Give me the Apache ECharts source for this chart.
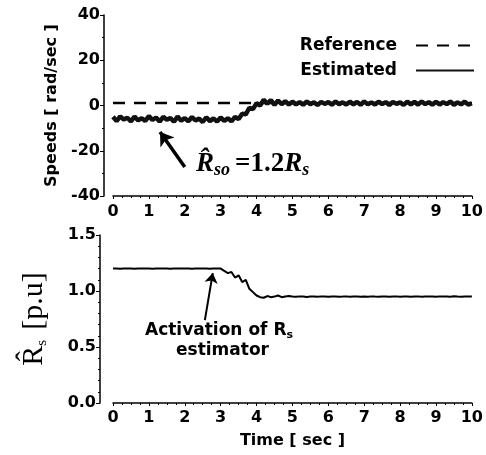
<!DOCTYPE html>
<html><head><meta charset="utf-8">
<script src="https://cdn.jsdelivr.net/npm/echarts@6/dist/echarts.min.js"></script>
<style>html,body{margin:0;padding:0;background:#fff}#c{width:486px;height:455px}</style>
</head><body><div id="c"></div>
<script>
// time samples (s)
const time = [0.0,0.1,0.2,0.3,0.4,0.5,0.6,0.7,0.8,0.9,
1.0,1.1,1.2,1.3,1.4,1.5,1.6,1.7,1.8,1.9,
2.0,2.1,2.2,2.3,2.4,2.5,2.6,2.7,2.8,2.9,
3.0,3.1,3.2,3.3,3.4,3.5,3.6,3.7,3.8,3.9,
4.0,4.1,4.2,4.3,4.4,4.5,4.6,4.7,4.8,4.9,
5.0,5.1,5.2,5.3,5.4,5.5,5.6,5.7,5.8,5.9,
6.0,6.1,6.2,6.3,6.4,6.5,6.6,6.7,6.8,6.9,
7.0,7.1,7.2,7.3,7.4,7.5,7.6,7.7,7.8,7.9,
8.0,8.1,8.2,8.3,8.4,8.5,8.6,8.7,8.8,8.9,
9.0,9.1,9.2,9.3,9.4,9.5,9.6,9.7,9.8,9.9,10.0];
// estimated speed (rad/sec)
const speedEstimated = [-5.0,-6.9,-4.8,-6.2,-5.4,-7.0,-4.9,-6.6,-5.6,-6.8,
-4.7,-6.4,-5.3,-7.1,-5.0,-6.3,-5.5,-7.2,-4.9,-6.7,
-5.6,-7.0,-5.1,-6.6,-5.8,-7.3,-5.2,-6.9,-5.7,-7.1,
-5.3,-6.8,-5.6,-7.0,-5.1,-6.0,-3.6,-3.9,-1.0,-1.6,
1.0,0.0,2.6,0.8,2.4,0.3,2.2,0.6,1.9,0.4,
1.7,0.5,1.5,0.3,1.8,0.6,1.4,0.2,1.6,0.7,
1.5,0.3,1.8,0.6,1.4,0.4,1.7,0.5,1.6,0.3,
1.8,0.5,1.4,0.4,1.7,0.6,1.5,0.2,1.6,0.7,
1.4,0.3,1.7,0.5,1.6,0.4,1.8,0.6,1.5,0.3,
1.7,0.4,1.5,0.6,1.8,0.3,1.4,0.5,1.7,0.4,1.0];
// reference speed (rad/sec)
const refTime = [0, 10];
const speedReference = [1.1, 1.1];
// estimated stator resistance (p.u)
const rsEstimated = [1.2,1.2,1.198,1.2,1.201,1.2,1.199,1.2,1.2,1.201,
1.2,1.199,1.2,1.2,1.201,1.2,1.198,1.2,1.2,1.201,
1.2,1.2,1.199,1.2,1.201,1.2,1.2,1.199,1.2,1.2,
1.2,1.18,1.16,1.17,1.12,1.14,1.08,1.10,1.02,0.99,
0.96,0.945,0.94,0.955,0.945,0.95,0.96,0.945,0.95,0.955,
0.95,0.948,0.952,0.95,0.947,0.951,0.95,0.949,0.952,0.95,
0.948,0.95,0.951,0.949,0.95,0.952,0.948,0.95,0.951,0.949,
0.95,0.948,0.952,0.95,0.949,0.951,0.95,0.948,0.95,0.952,
0.949,0.95,0.951,0.948,0.95,0.952,0.949,0.95,0.951,0.95,
0.948,0.952,0.95,0.951,0.949,0.953,0.95,0.948,0.951,0.95,0.95];
const speedTicks = [-40, -20, 0, 20, 40];
const rsTicks = [0.0, 0.5, 1.0, 1.5];

const F = 'DejaVu Sans';
const chart = echarts.init(document.getElementById('c'), null, {renderer: 'canvas'});
const lbl = {color: '#000', fontFamily: F, fontWeight: 'bold', fontSize: 16};
const axLine = {show: true, onZero: false, lineStyle: {color: '#000', width: 1.5}};
function pairs(xs, ys){ return xs.map((x,i)=>[x, ys[i]]); }

chart.setOption({
  backgroundColor: '#fff',
  animation: false,
  legend: {
    data: ['Reference', 'Estimated'],
    orient: 'vertical', right: 6, top: 32, align: 'right',
    itemWidth: 58, itemHeight: 14, itemGap: 8,
    textStyle: {color: '#000', fontFamily: F, fontWeight: 'bold', fontSize: 17, padding: [0, 14, 0, 0]},
    itemStyle: {opacity: 0},
    lineStyle: {width: 2}
  },
  grid: [
    {left: 113, right: 13, top: 15, height: 181},
    {left: 113, right: 12, top: 235, height: 168}
  ],
  xAxis: [
    {gridIndex: 0, type: 'value', min: 0, max: 10, interval: 1,
     axisLine: axLine, splitLine: {show: false},
     axisTick: {show: true, length: 3, lineStyle: {color: '#000'}},
     minorTick: {show: true, splitNumber: 4, length: 2, lineStyle: {color: '#000'}},
     axisLabel: Object.assign({margin: 8}, lbl)},
    {gridIndex: 1, type: 'value', min: 0, max: 10, interval: 1,
     axisLine: axLine, splitLine: {show: false},
     axisTick: {show: true, length: 3, lineStyle: {color: '#000'}},
     minorTick: {show: true, splitNumber: 4, length: 2, lineStyle: {color: '#000'}},
     axisLabel: Object.assign({margin: 7}, lbl),
     name: 'Time [ sec ]', nameLocation: 'middle', nameGap: 30,
     nameTextStyle: {color: '#000', fontFamily: F, fontWeight: 'bold', fontSize: 16}}
  ],
  yAxis: [
    {gridIndex: 0, type: 'value', min: speedTicks[0], max: speedTicks[speedTicks.length-1], interval: 20,
     offset: 9, axisLine: axLine, splitLine: {show: false},
     axisTick: {show: true, length: 4, lineStyle: {color: '#000'}},
     minorTick: {show: true, splitNumber: 2, length: 2, lineStyle: {color: '#000'}},
     axisLabel: Object.assign({margin: 4}, lbl),
     name: 'Speeds [ rad/sec ]', nameLocation: 'middle', nameGap: 32,
     nameTextStyle: {color: '#000', fontFamily: F, fontWeight: 'bold', fontSize: 16}},
    {gridIndex: 1, type: 'value', min: rsTicks[0], max: rsTicks[rsTicks.length-1], interval: 0.5,
     offset: 13, axisLine: axLine, splitLine: {show: false},
     axisTick: {show: true, length: 4, lineStyle: {color: '#000'}},
     minorTick: {show: true, splitNumber: 5, length: 2, lineStyle: {color: '#000'}},
     axisLabel: Object.assign({margin: 4, formatter: v => v.toFixed(1)}, lbl),
     name: '{r|R\u0302}{s|s}   {t|[p.u]}', nameLocation: 'middle', nameGap: 50,
     nameTextStyle: {color: '#000', rich: {
       r: {fontFamily: 'Liberation Serif', fontSize: 30, color: '#000', lineHeight: 32},
       s: {fontFamily: 'Liberation Serif', fontSize: 15, color: '#000', verticalAlign: 'bottom', lineHeight: 24},
       t: {fontFamily: 'Liberation Serif', fontSize: 30, color: '#000', lineHeight: 32}
     }}}
  ],
  series: [
    {name: 'Reference', type: 'line', xAxisIndex: 0, yAxisIndex: 0, data: pairs(refTime, speedReference),
     showSymbol: false, symbol: 'none', z: 3,
     lineStyle: {color: '#000', width: 2.5, type: [12, 9]}, itemStyle: {color: '#000'}},
    {name: 'Estimated', type: 'line', xAxisIndex: 0, yAxisIndex: 0, data: pairs(time, speedEstimated),
     showSymbol: false, symbol: 'none', z: 4,
     lineStyle: {color: '#111', width: 4.5}, itemStyle: {color: '#111'},
     markLine: {silent: true, symbol: ['none', 'arrow'], symbolSize: 13, label: {show: false},
       lineStyle: {color: '#000', width: 3.5, type: 'solid'},
       data: [[{coord: [2.0, -27.2]}, {coord: [1.31, -11.7]}]]}},
    {name: 'Rs', type: 'line', xAxisIndex: 1, yAxisIndex: 1, data: pairs(time, rsEstimated),
     showSymbol: false, symbol: 'none',
     lineStyle: {color: '#000', width: 2}, itemStyle: {color: '#000'},
     markLine: {silent: true, symbol: ['none', 'arrow'], symbolSize: 10, label: {show: false},
       lineStyle: {color: '#000', width: 2, type: 'solid'},
       data: [[{coord: [2.56, 0.74]}, {coord: [2.78, 1.16]}]]}}
  ],
  graphic: [
    {type: 'text', left: 196, top: 151, style: {
      text: '{r|R\u0302}{s|so}{e|=1.2}{r|R}{s|s}',
      rich: {
        r: {fontFamily: 'Liberation Serif', fontStyle: 'italic', fontWeight: 'bold', fontSize: 27, fill: '#000', lineHeight: 30},
        s: {fontFamily: 'Liberation Serif', fontStyle: 'italic', fontWeight: 'bold', fontSize: 18, fill: '#000', verticalAlign: 'bottom', lineHeight: 22, padding: [0, 5, 0, 0]},
        e: {fontFamily: 'Liberation Serif', fontWeight: 'bold', fontSize: 27, fill: '#000', lineHeight: 30}
      }}},
    {type: 'text', left: 145, top: 322, style: {
      text: '{b|Activation of R}{s|s}\n{c|estimator}',
      rich: {
        b: {fontFamily: F, fontWeight: 'bold', fontSize: 17, fill: '#000', lineHeight: 20},
        s: {fontFamily: F, fontWeight: 'bold', fontSize: 11, fill: '#000', verticalAlign: 'bottom', lineHeight: 15},
        c: {fontFamily: F, fontWeight: 'bold', fontSize: 17, fill: '#000', lineHeight: 20, padding: [0, 0, 0, 31]}
      }}}
  ]
});
</script></body></html>
